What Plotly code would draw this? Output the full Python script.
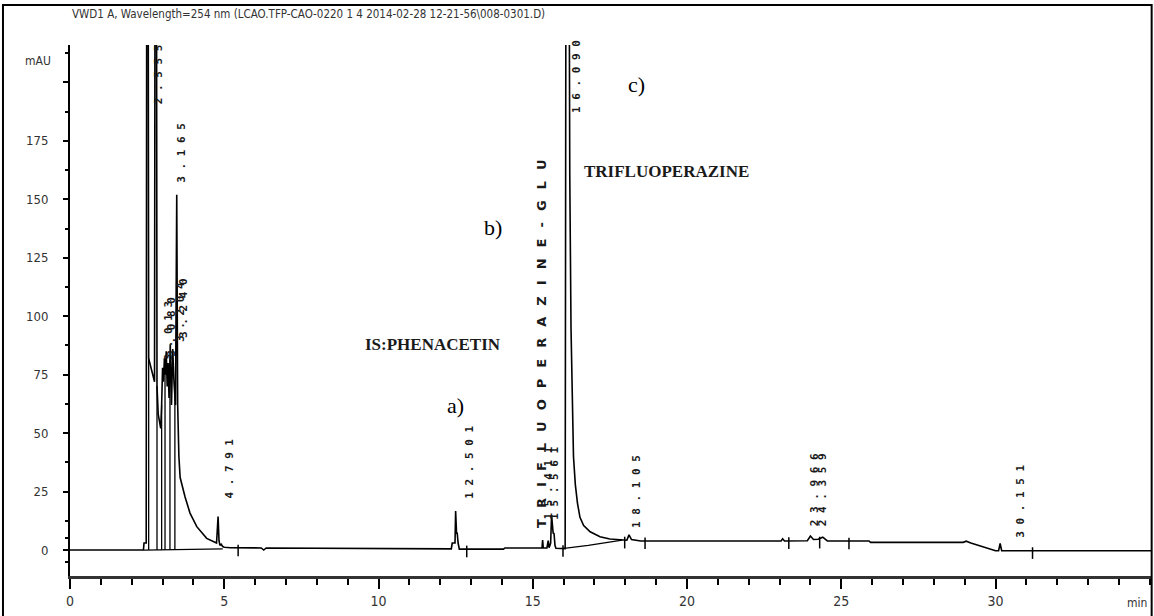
import plotly.graph_objects as go

# ---------------- data ----------------
# detector signal (time in min, absorbance in mAU); clipped peaks are off scale
sig_t = [0.0, 2.38, 2.40, 2.47, 2.49, 2.53, 2.55, 2.74, 2.76, 2.80, 2.82, 2.86,
         2.90, 2.94, 2.97, 3.00, 3.03, 3.06, 3.09, 3.12, 3.15, 3.18, 3.21, 3.25,
         3.29, 3.33, 3.37, 3.42, 3.46, 3.49, 3.53, 3.57, 3.73, 3.89, 4.11, 4.43,
         4.75, 4.80, 4.83, 4.86, 4.90, 4.95, 5.00, 5.20, 6.20, 6.28, 6.36, 12.36,
         12.39, 12.48, 12.50, 12.53, 12.55, 12.58, 12.60, 12.62, 14.05, 14.10,
         15.30, 15.32, 15.34, 15.46, 15.50, 15.53, 15.58, 15.61, 15.66, 15.69,
         15.72, 15.75, 16.05, 16.08, 16.17, 16.20, 16.24, 16.28, 16.32, 16.38,
         16.45, 16.53, 16.65, 16.86, 17.18, 17.50, 17.80, 18.05, 18.12, 18.20,
         18.50, 23.05, 23.10, 23.16, 23.90, 24.00, 24.10, 24.25, 24.40, 24.55,
         25.90, 25.95, 28.95, 29.05, 29.20, 29.50, 29.80, 30.00, 30.10, 30.15,
         30.20, 30.30, 35.04]
sig_v = [0.0, 0.0, 3.0, 3.0, 300, 300, 82, 72, 300, 300, 70, 58,
         55, 52, 62, 78, 72, 82, 75, 85, 70, 80, 65, 88,
         62, 86, 72, 62, 152, 62, 40, 31, 22.7, 15.8, 10.0, 5.0,
         3.0, 14.3, 4.0, 2.0, 2.5, 1.5, 1.2, 1.0, 0.9, 0.0, 0.9, 0.5,
         3.0, 3.0, 16.7, 7.0, 7.5, 3.0, 0.6, 0.4, 0.4, 0.9,
         0.9, 4.3, 0.9, 0.9, 4.0, 1.0, 3.0, 15.0, 7.3, 7.0,
         2.0, 0.8, 0.6, 300, 300, 160, 95, 60, 40, 28,
         20, 14, 10.5, 7.8, 5.7, 4.7, 4.3, 4.2, 6.5, 4.5,
         3.9, 3.9, 4.8, 3.9, 4.0, 6.0, 4.5, 4.6, 5.5, 3.9,
         3.9, 3.3, 3.3, 3.8, 3.0, 1.8, 0.5, -0.3, -0.3, 2.8,
         -0.3, -0.3, -0.3]

# integration baselines
base_t = [2.40, 4.95, None, 15.95, 16.80, 17.90]
base_v = [0.0, 0.5, None, 0.6, 2.0, 4.2]

# peak drop lines (time, top value)
drop_t = [2.55, 2.82, 2.97, 3.08, 3.24, 3.40]
drop_v = [82, 70, 62, 76, 80, 72]

# integration event marks (time, level)
event_t = [5.45, 12.86, 15.98, 17.98, 18.64, 23.30, 24.30, 25.25, 31.20]
event_v = [0.8, 0.4, 0.6, 4.2, 3.9, 4.0, 4.2, 3.8, -0.3]

# retention-time labels: text, anchor time, label bottom (mAU)
rt_text = ["2.555", "3.165", "3.013", "3.080", "3.204", "3.240", "4.791",
           "12.501", "15.411", "15.561", "16.090", "18.105", "23.966", "24.359", "30.151"]
rt_x = [2.59, 3.34, 2.92, 3.01, 3.31, 3.40, 4.90,
        12.67, 15.22, 15.42, 16.14, 18.09, 23.86, 24.12, 30.53]
rt_y = [190, 156, 80, 82, 88, 90, 21,
        21, 12, 12, 186, 8.6, 9.4, 9.4, 4.3]

x_ticks = [0, 5, 10, 15, 20, 25, 30]
y_ticks = [0, 25, 50, 75, 100, 125, 150, 175, 200]
y_ticklabels = ["0", "25", "50", "75", "100", "125", "150", "175", ""]
y_minor = [-5, 5, 12.5, 37.5, 62.5, 87.5, 112.5, 137.5, 162.5, 187.5, 212.5]

title_text = "VWD1 A, Wavelength=254 nm (LCAO.TFP-CAO-0220 1 4 2014-02-28 12-21-56\\008-0301.D)"

# ---------------- figure ----------------
NARROW = "Liberation Sans Narrow, DejaVu Sans Condensed, Arial Narrow, sans-serif"
MONO = "DejaVu Sans Mono, Liberation Mono, monospace"
SERIF = "Liberation Serif, Times New Roman, serif"

fig = go.Figure()
fig.add_trace(go.Scatter(x=sig_t, y=sig_v, mode="lines",
                         line=dict(color="black", width=1.6), hoverinfo="skip"))
fig.add_trace(go.Scatter(x=base_t, y=base_v, mode="lines",
                         line=dict(color="black", width=1.3), hoverinfo="skip"))

dx, dy = [], []
for t, v in zip(drop_t, drop_v):
    dx += [t, t, None]
    dy += [v, 0, None]
fig.add_trace(go.Scatter(x=dx, y=dy, mode="lines",
                         line=dict(color="black", width=1.3), hoverinfo="skip"))

ex, ey = [], []
for t, v in zip(event_t, event_v):
    ex += [t, t, None]
    ey += [v + 1.5, v - 3.5, None]
fig.add_trace(go.Scatter(x=ex, y=ey, mode="lines",
                         line=dict(color="black", width=1.5), hoverinfo="skip"))

annotations = []
for txt, x, y in zip(rt_text, rt_x, rt_y):
    annotations.append(dict(x=x, y=y, xref="x", yref="y",
                            text="<b>" + " ".join(txt) + "</b>",
                            textangle=-90, xanchor="left", yanchor="bottom",
                            showarrow=False,
                            font=dict(family=MONO, size=11, color="#1a1a1a")))

annotations += [
    dict(x=14.99, y=8.6, xref="x", yref="y",
         text="<b>" + "\u2002 ".join("TRIFLUOPERAZINE-GLU") + "</b>", textangle=-90,
         xanchor="left", yanchor="bottom", showarrow=False,
         font=dict(family="DejaVu Sans, sans-serif", size=13, color="#1a1a1a")),
    dict(x=9.5, y=88, xref="x", yref="y", text="<b>IS:PHENACETIN</b>",
         xanchor="left", yanchor="middle", showarrow=False,
         font=dict(family=SERIF, size=17, color="#1a1a1a")),
    dict(x=16.6, y=162, xref="x", yref="y", text="<b>TRIFLUOPERAZINE</b>",
         xanchor="left", yanchor="middle", showarrow=False,
         font=dict(family=SERIF, size=17, color="#1a1a1a")),
    dict(x=12.5, y=62, xref="x", yref="y", text="a)", showarrow=False,
         font=dict(family=SERIF, size=22, color="black")),
    dict(x=13.72, y=138, xref="x", yref="y", text="b)", showarrow=False,
         font=dict(family=SERIF, size=22, color="black")),
    dict(x=18.35, y=199, xref="x", yref="y", text="c)", showarrow=False,
         font=dict(family=SERIF, size=22, color="black")),
    dict(x=0.221, y=1.059, xref="paper", yref="paper", text=title_text,
         showarrow=False, xanchor="center", yanchor="middle",
         font=dict(family=NARROW, size=11.5, color="#333")),
    dict(x=-0.03, y=0.97, xref="paper", yref="paper", text="mAU",
         showarrow=False, xanchor="center", yanchor="middle",
         font=dict(family=NARROW, size=12, color="#333")),
    dict(x=0.998, y=-0.051, xref="paper", yref="paper", text="min",
         showarrow=False, xanchor="right", yanchor="middle",
         font=dict(family=NARROW, size=12, color="#333")),
]

fig.update_layout(
    width=1154, height=616,
    margin=dict(l=70, r=3, t=45, b=40),
    paper_bgcolor="white", plot_bgcolor="white",
    showlegend=False,
    annotations=annotations,
    shapes=[dict(type="rect", xref="paper", yref="paper",
                 x0=-0.0620, x1=1.0006, y0=-0.10, y1=1.0753,
                 line=dict(color="black", width=2), layer="above")],
    xaxis=dict(range=[0, 35.04], showgrid=False, zeroline=False,
               showline=True, linecolor="#333", linewidth=2.5,
               ticks="outside", ticklen=10, tickwidth=1.5, tickcolor="black",
               tickvals=x_ticks, ticktext=[str(v) for v in x_ticks],
               minor=dict(dtick=1, tick0=0, ticks="outside", ticklen=6,
                          tickwidth=1.5, tickcolor="black"),
               tickfont=dict(family=NARROW, size=14, color="#333")),
    yaxis=dict(range=[-11.1, 216], showgrid=False, zeroline=False,
               showline=True, linecolor="black", linewidth=2,
               ticks="outside", ticklen=5, tickwidth=1.5, tickcolor="black",
               tickvals=y_ticks, ticktext=y_ticklabels, ticklabelstandoff=12,
               minor=dict(tickvals=y_minor, ticks="outside", ticklen=3,
                          tickwidth=1.5, tickcolor="black"),
               tickfont=dict(family=NARROW, size=13, color="#333")),
)

fig.write_html("out.html")
